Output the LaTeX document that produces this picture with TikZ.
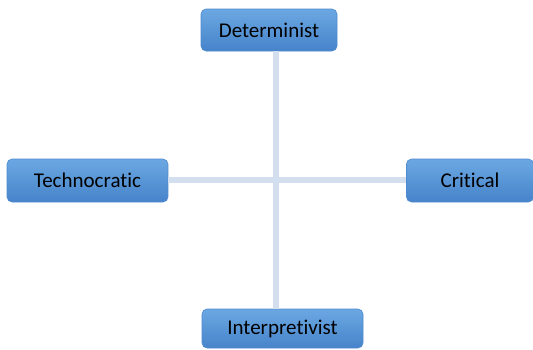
\documentclass[tikz,border=0pt]{standalone}
\usepackage{fontspec}
\setmainfont{Carlito}[Ligatures={NoCommon}]
\definecolor{boxtop}{HTML}{6BA8E2}
\definecolor{boxbot}{HTML}{4683CA}
\definecolor{boxedge}{HTML}{4F8BCF}
\definecolor{linkcol}{HTML}{D3DEEF}
\begin{document}
\begin{tikzpicture}[x=1pt,y=-1pt,
  pole/.style={rounded corners=5pt, top color=boxtop, bottom color=boxbot,
    draw=boxedge, line width=0.6pt, font=\fontsize{21}{25}\selectfont,
    text=black, inner sep=0pt},
  link/.style={draw=linkcol, line width=6pt}]
\useasboundingbox (0,0) rectangle (533,349);
\node[pole, minimum width=136pt, minimum height=42pt] (det) at (269,30) {Determinist};
\node[pole, minimum width=161pt, minimum height=43pt] (tec) at (87.5,180.5) {Technocratic};
\node[pole, minimum width=127pt, minimum height=43pt] (cri) at (470,180.5) {Critical};
\node[pole, minimum width=161pt, minimum height=39pt] (int) at (282.5,328.5) {Interpretivist};
\coordinate (hub) at (276,180);
% connecting cross behind the boxes
\draw[link] (hub |- det.south) -- (hub |- int.north);
\draw[link] (tec.east |- hub) -- (cri.west |- hub);
\end{tikzpicture}
\end{document}
